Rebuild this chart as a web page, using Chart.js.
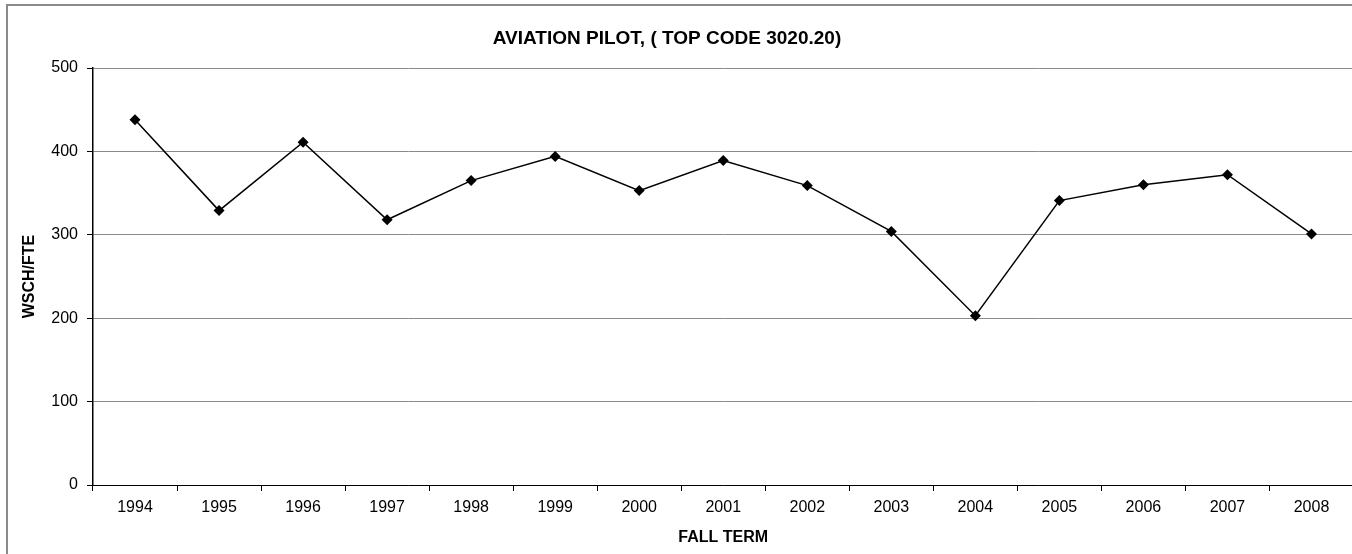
<!DOCTYPE html>
<html>
<head>
<meta charset="utf-8">
<script src="https://cdn.jsdelivr.net/npm/chart.js@4"></script>
<style>
  html, body { margin: 0; padding: 0; background: #fff; overflow: hidden; width: 1352px; height: 554px; }
  #frame { position: absolute; left: 6px; top: 4px; width: 1400px; height: 600px; border: 2px solid #8a8a8a; }
  #myChart { position: absolute; left: -25px; top: 0; }
</style>
</head>
<body>
<div id="frame"></div>
<canvas id="myChart" width="1384" height="554"></canvas>
<script>
'use strict';
let years = ['1994', '1995', '1996', '1997', '1998', '1999', '2000', '2001',
    '2002', '2003', '2004', '2005', '2006', '2007', '2008'];
let wschFte = [438, 329, 411, 318, 365, 394, 353, 389, 359, 304, 203, 341, 360, 372, 301];
let chartTitle = 'AVIATION PILOT, ( TOP CODE 3020.20)';
let yTitle = 'WSCH/FTE';
let xTitle = 'FALL TERM';

let fontFamily = 'Arial, "Liberation Sans", sans-serif';

let ctx = document.getElementById('myChart').getContext('2d');
let myChart = new Chart(ctx, {
    type: 'line',
    data: {
        labels: years,
        datasets: [{
            label: yTitle,
            data: wschFte,
            borderColor: '#000',
            backgroundColor: '#000',
            borderWidth: 1.5,
            pointStyle: 'rectRot',
            pointRadius: 5.5,
            pointBorderWidth: 0,
            tension: 0
        }]
    },
    options: {
        responsive: false,
        animation: false,
        devicePixelRatio: 1,
        layout: { padding: 0 },
        plugins: {
            legend: { display: false },
            tooltip: { enabled: false },
            title: {
                display: true,
                text: chartTitle,
                color: '#000',
                font: { family: fontFamily, size: 19, weight: 'bold' },
                padding: { top: 27.6, bottom: 17.6 }
            }
        },
        scales: {
            x: {
                offset: true,
                grid: {
                    offset: true,
                    drawOnChartArea: false,
                    drawTicks: true,
                    tickLength: 6,
                    tickColor: '#000'
                },
                border: { color: '#000', width: 1 },
                ticks: {
                    color: '#000',
                    padding: 7,
                    font: { family: fontFamily, size: 16 }
                },
                title: {
                    display: true,
                    text: xTitle,
                    color: '#000',
                    font: { family: fontFamily, size: 16, weight: 'bold' },
                    padding: { top: 0, bottom: 6.4 }
                },
                afterFit: function (scale) { scale.height = 69; }
            },
            y: {
                min: 0,
                max: 500,
                grid: {
                    color: '#8a8a8a',
                    tickColor: '#000',
                    tickLength: 6
                },
                border: { color: '#000', width: 1.5 },
                ticks: {
                    stepSize: 100,
                    color: '#000',
                    padding: 9,
                    font: { family: fontFamily, size: 16 }
                },
                title: {
                    display: true,
                    text: yTitle,
                    color: '#000',
                    font: { family: fontFamily, size: 16, weight: 'bold' },
                    padding: { top: 44.5, bottom: 0 }
                },
                afterFit: function (scale) { scale.width = 118; }
            }
        }
    }
});
</script>
</body>
</html>
